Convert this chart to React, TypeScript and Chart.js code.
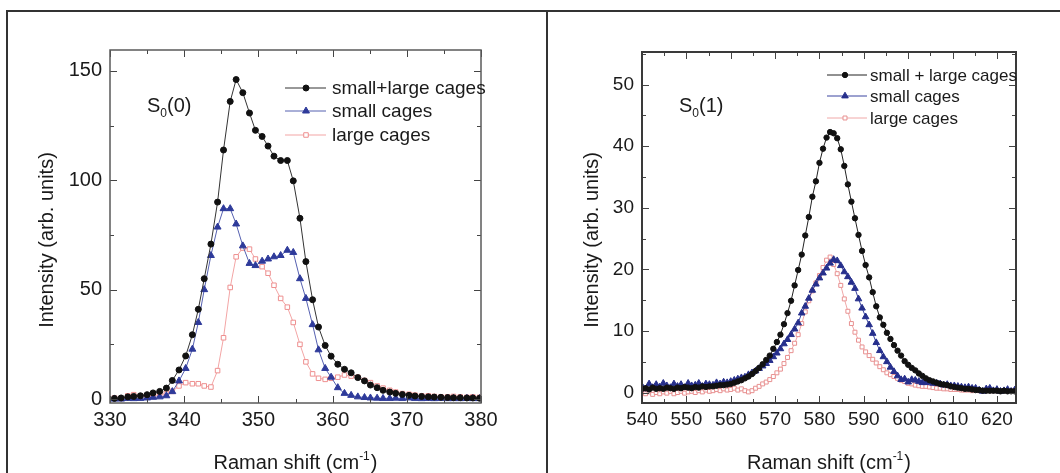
import React, { useEffect, useRef } from "react";
import { Chart, registerables } from "chart.js";
Chart.register(...registerables);

const FONT = '"Liberation Sans", Arial, Helvetica, sans-serif';
const TEXT = "#1a1a1a";

// ---------- Left panel: S0(0) ----------
const L_X = [
  330.6, 331.5, 332.4, 333.2, 334.1, 335.0, 335.8, 336.7, 337.6, 338.4,
  339.3, 340.2, 341.1, 341.9, 342.7, 343.6, 344.5, 345.3, 346.2, 347.0,
  347.9, 348.8, 349.6, 350.5, 351.3, 352.1, 353.0, 353.9, 354.7, 355.6,
  356.4, 357.3, 358.1, 359.0, 359.8, 360.7, 361.6, 362.5, 363.4, 364.3,
  365.1, 366.0, 366.8, 367.7, 368.5, 369.4, 370.3, 371.1, 372.0, 372.9,
  373.7, 374.6, 375.5, 376.3, 377.2, 378.1, 378.9, 379.8,
];
const L_BOTH = [
  0.3, 0.5, 1.0, 1.2, 1.5, 2.0, 2.8, 3.5, 5.0, 8.5,
  13.3, 19.7, 29.4, 41, 55, 70.8, 90, 113.8, 136, 146,
  140, 130.7, 122.8, 120, 115.6, 111, 109, 109, 99.7, 82.6,
  62.8, 45.4, 32.9, 24.5, 19.6, 15.9, 13.6, 12, 9.8, 8.3,
  6.4, 5.2, 4.0, 3.2, 2.6, 2.1, 1.7, 1.4, 1.2, 1.0,
  0.9, 0.8, 0.7, 0.6, 0.6, 0.5, 0.5, 0.4,
];
const L_SMALL = [
  0, 0, 0.3, 0.2, 0.3, 0.5, 0.8, 1.0, 1.5, 3.4,
  8.3, 14, 22.8, 35, 50, 65.6, 78.6, 87, 87, 80,
  70, 62, 61, 63, 64, 65, 65.6, 68, 67, 55,
  46, 34, 22.5, 14, 10, 5.2, 2.6, 1.7, 1.0, 0.7,
  0.5, 0.4, 0.3, 0.3, 0.4, 0.3, 0.5, 0.3, 0.2, 0.3,
  0.2, 0.3, 0.2, 0.2, 0.2, 0.3, 0.2, 0.2,
];
const L_LARGE = [
  0.5, 0.3, 1.5, 2.0, 1.5, 1.0, 1.5, 2.0, 2.5, 3.5,
  6.0, 7.5, 7.0, 7.0, 6.0, 5.5, 13, 28, 51, 65,
  69, 68.5, 64, 60.5, 57.5, 52, 46, 42, 35, 25,
  17, 11.5, 9.5, 9.0, 9.5, 10, 11, 10.5, 10, 8.5,
  7.5, 6.0, 5.0, 4.0, 3.2, 2.5, 2.2, 1.8, 1.5, 1.5,
  1.2, 1.0, 1.0, 1.2, 1.0, 0.8, 1.0, 0.8,
];
const L_XTICKS = [330, 340, 350, 360, 370, 380];
const L_YTICKS = [0, 50, 100, 150];
const L_LABELS = ["small+large cages", "small cages", "large cages"];
const L_ANNOT = ["S", "0", "(0)"];

// ---------- Right panel: S0(1) ----------
const R_X = [
  540.0, 540.8, 541.6, 542.4, 543.2, 544.0, 544.8, 545.6, 546.4, 547.2,
  548.0, 548.8, 549.6, 550.4, 551.2, 552.0, 552.8, 553.6, 554.4, 555.2,
  556.0, 556.8, 557.6, 558.4, 559.2, 560.0, 560.8, 561.6, 562.4, 563.2,
  564.0, 564.8, 565.6, 566.4, 567.2, 568.0, 568.8, 569.6, 570.4, 571.2,
  572.0, 572.8, 573.6, 574.4, 575.2, 576.0, 576.8, 577.6, 578.4, 579.2,
  580.0, 580.8, 581.6, 582.4, 583.2, 584.0, 584.8, 585.6, 586.4, 587.2,
  588.0, 588.8, 589.6, 590.4, 591.2, 592.0, 592.8, 593.6, 594.4, 595.2,
  596.0, 596.8, 597.6, 598.4, 599.2, 600.0, 600.8, 601.6, 602.4, 603.2,
  604.0, 604.8, 605.6, 606.4, 607.2, 608.0, 608.8, 609.6, 610.4, 611.2,
  612.0, 612.8, 613.6, 614.4, 615.2, 616.0, 616.8, 617.6, 618.4, 619.2,
  620.0, 620.8, 621.6, 622.4, 623.2, 624.0,
];
const R_BOTH = [
  0.6, 0.7, 0.5, 0.8, 0.6, 0.7, 0.6, 0.8, 0.7, 0.6,
  0.8, 0.7, 0.9, 0.8, 0.7, 0.9, 0.8, 1.0, 0.9, 1.0,
  1.0, 1.1, 1.2, 1.2, 1.3, 1.4, 1.6, 1.8, 2.0, 2.3,
  2.6, 3.0, 3.5, 4.0, 4.6, 5.3, 6.0, 7.1, 8.2, 9.4,
  11.1, 12.9, 14.9, 17.4, 19.9, 22.4, 25.5, 28.5, 31.8, 34.3,
  37.3, 39.6, 41.4, 42.3, 42.1, 41.3, 39.5, 36.8, 33.8, 31.0,
  28.3, 25.6, 23.0, 20.7, 18.7, 16.3, 14.0, 12.2, 11.0, 9.7,
  8.7, 7.7, 6.8, 6.0, 5.1, 4.5, 4.0, 3.6, 3.1, 2.7,
  2.3, 2.0, 1.8, 1.6, 1.4, 1.3, 1.2, 1.0, 0.9, 0.8,
  0.7, 0.6, 0.6, 0.5, 0.4, 0.4, 0.3, 0.3, 0.3, 0.3,
  0.3, 0.2, 0.3, 0.2, 0.2, 0.2,
];
const R_SMALL = [
  1.0, 0.6, 1.4, 0.8, 1.3, 0.9, 1.5, 1.1, 0.8, 1.4,
  1.0, 1.3, 0.8, 1.5, 1.1, 1.2, 1.5, 1.0, 1.4, 1.3,
  1.2, 1.6, 1.4, 1.7, 1.6, 1.8, 2.0, 2.2, 2.4, 2.5,
  2.9, 3.2, 3.5, 3.9, 4.3, 4.7, 5.2, 5.8, 6.4, 7.1,
  7.9, 8.6, 9.4, 10.3, 11.3, 12.9, 14.0, 15.3, 16.6, 17.6,
  18.6, 19.4, 20.2, 21.0, 21.6, 21.4, 20.6, 19.6, 18.8, 17.9,
  16.9, 15.2, 13.7, 12.3, 11.0, 9.6, 8.1, 6.8, 5.8, 5.0,
  4.1, 3.4, 2.7, 2.1, 2.2, 1.7, 2.1, 2.0, 1.8, 1.6,
  1.6, 1.7, 1.5, 1.5, 1.4, 1.2, 1.3, 1.1, 1.1, 1.0,
  0.9, 0.8, 0.9, 0.7, 0.7, 0.4, 0.2, 0.6, 0.7, 0.3,
  0.5, 0.2, 0.3, 0.5, 0.2, 0.4,
];
const R_LARGE = [
  0.0, -0.2, 0.1, -0.3, 0.0, -0.2, 0.1, -0.1, 0.2, -0.2,
  0.0, 0.2, -0.1, 0.1, 0.2, 0.0, 0.3, 0.1, 0.4, 0.2,
  0.3, 0.5, 0.3, 0.6, 0.4, 0.5, 0.7, 0.4, 0.6, 0.3,
  0.1, 0.3, 0.7, 1.0, 1.4, 1.7, 2.1, 2.6, 3.2, 3.8,
  4.7, 5.7, 6.8, 8.0, 9.4, 11.2, 13.1, 14.9, 16.5, 17.8,
  19.0, 20.3, 21.5, 22.0, 20.8, 19.3, 17.4, 15.2, 13.2, 11.2,
  9.8, 8.5, 7.4, 6.6, 6.0, 5.4, 4.8, 4.2, 3.7, 3.2,
  2.9, 2.6, 2.3, 2.0, 1.8, 1.5, 1.4, 1.2, 1.1, 1.0,
  1.0, 0.9, 0.8, 0.7, 0.7, 0.6, 0.6, 0.5, 0.5, 0.5,
  0.4, 0.4, 0.4, 0.3, 0.4, 0.3, 0.3, 0.4, 0.3, 0.3,
  0.3, 0.2, 0.3, 0.3, 0.2, 0.3,
];
const R_XTICKS = [540, 550, 560, 570, 580, 590, 600, 610, 620];
const R_YTICKS = [0, 10, 20, 30, 40, 50];
const R_LABELS = ["small + large cages", "small cages", "large cages"];
const R_ANNOT = ["S", "0", "(1)"];

const X_TITLE = "Raman shift (cm";
const X_TITLE_SUP = "-1";
const X_TITLE_END = ")";
const Y_TITLE = "Intensity (arb. units)";

type Series = {
  label: string;
  data: number[];
  style: "circle" | "triangle" | "rect";
  radius: number;
  fill: string;
  stroke: string;
  line: string;
};

type PanelCfg = {
  canvasLeft: number;
  width: number;
  height: number;
  area: { left: number; right: number; top: number; bottom: number };
  xMin: number; xMax: number; yMin: number; yMax: number;
  xMinor: number; yMinor: number;
  xTicks: number[]; yTicks: number[];
  xs: number[];
  series: Series[];
  tickSize: number;
  titleSize: number;
  frame: { color: string; width: number };
  legend: { x1: number; xm: number; x2: number; tx: number; ys: number[]; size: number };
  annot: { parts: string[]; x: number; y: number };
  yTitle: { cx: number; cy: number };
  xTitleY: number;
};

const LEFT: PanelCfg = {
  canvasLeft: 0, width: 547, height: 473,
  area: { left: 110, right: 481, top: 50, bottom: 403 },
  xMin: 330, xMax: 380, yMin: -1.8, yMax: 159.5, xMinor: 5, yMinor: 25,
  xTicks: L_XTICKS, yTicks: L_YTICKS, xs: L_X,
  series: [
    { label: L_LABELS[0], data: L_BOTH, style: "circle", radius: 3, fill: "#111", stroke: "#111", line: "#333" },
    { label: L_LABELS[1], data: L_SMALL, style: "triangle", radius: 4, fill: "#2e3a9a", stroke: "#2e3a9a", line: "#5560b0" },
    { label: L_LABELS[2], data: L_LARGE, style: "rect", radius: 3.2, fill: "#ffffff", stroke: "#ee8f8f", line: "#f3a5a5" },
  ],
  tickSize: 20, titleSize: 20,
  frame: { color: "#5a5a5a", width: 1.5 },
  legend: { x1: 285, xm: 306, x2: 326, tx: 332, ys: [88, 111, 135], size: 19 },
  annot: { parts: L_ANNOT, x: 147, y: 112 },
  yTitle: { cx: 47, cy: 240 },
  xTitleY: 469,
};

const RIGHT: PanelCfg = {
  canvasLeft: 547, width: 513, height: 473,
  area: { left: 95, right: 469, top: 52, bottom: 403 },
  xMin: 540, xMax: 624.3, yMin: -1.7, yMax: 55.3, xMinor: 5, yMinor: 5,
  xTicks: R_XTICKS, yTicks: R_YTICKS, xs: R_X,
  series: [
    { label: R_LABELS[0], data: R_BOTH, style: "circle", radius: 2.7, fill: "#111", stroke: "#111", line: "#222" },
    { label: R_LABELS[1], data: R_SMALL, style: "triangle", radius: 3.8, fill: "#262f8c", stroke: "#262f8c", line: "#3a44a0" },
    { label: R_LABELS[2], data: R_LARGE, style: "rect", radius: 2.8, fill: "#ffffff", stroke: "#e89090", line: "#f0a8a8" },
  ],
  tickSize: 19, titleSize: 20,
  frame: { color: "#3a3a3a", width: 2 },
  legend: { x1: 280, xm: 298, x2: 320, tx: 323, ys: [75, 96, 118], size: 17 },
  annot: { parts: R_ANNOT, x: 132, y: 112 },
  yTitle: { cx: 45, cy: 240 },
  xTitleY: 469,
};

function drawMarker(ctx: CanvasRenderingContext2D, s: Series, x: number, y: number) {
  const r = s.radius;
  ctx.beginPath();
  if (s.style === "circle") {
    ctx.arc(x, y, r, 0, Math.PI * 2);
  } else if (s.style === "triangle") {
    ctx.moveTo(x, y - r);
    ctx.lineTo(x + r * 0.866, y + r * 0.5);
    ctx.lineTo(x - r * 0.866, y + r * 0.5);
    ctx.closePath();
  } else {
    const h = r * Math.SQRT1_2;
    ctx.rect(x - h, y - h, 2 * h, 2 * h);
  }
  ctx.fillStyle = s.fill;
  ctx.fill();
  ctx.strokeStyle = s.stroke;
  ctx.lineWidth = 1;
  ctx.stroke();
}

function makeDecor(p: PanelCfg) {
  return {
    id: "decor",
    afterDraw(chart: any) {
      const ctx: CanvasRenderingContext2D = chart.ctx;
      const { left, right, top, bottom } = chart.chartArea;
      const xs = chart.scales.x;
      const ys = chart.scales.y;
      ctx.save();
      ctx.strokeStyle = "#444";
      ctx.lineWidth = 1;
      const seg = (x1: number, y1: number, x2: number, y2: number) => {
        ctx.beginPath();
        ctx.moveTo(x1, y1);
        ctx.lineTo(x2, y2);
        ctx.stroke();
      };
      const MAJ = 7, MIN = 4;
      for (let v = Math.ceil(p.xMin / p.xMinor) * p.xMinor; v <= p.xMax + 1e-9; v += p.xMinor) {
        const len = p.xTicks.includes(v) ? MAJ : MIN;
        const px = Math.round(xs.getPixelForValue(v)) + 0.5;
        seg(px, bottom, px, bottom - len);
        seg(px, top, px, top + len);
      }
      for (let v = Math.ceil(p.yMin / p.yMinor) * p.yMinor; v <= p.yMax + 1e-9; v += p.yMinor) {
        const len = p.yTicks.includes(v) ? MAJ : MIN;
        const py = Math.round(ys.getPixelForValue(v)) + 0.5;
        seg(left, py, left + len, py);
        seg(right, py, right - len, py);
      }
      ctx.strokeStyle = p.frame.color;
      ctx.lineWidth = p.frame.width;
      ctx.strokeRect(left, top, right - left, bottom - top);

      // legend
      ctx.textBaseline = "middle";
      ctx.textAlign = "left";
      p.series.forEach((s, i) => {
        const y = p.legend.ys[i];
        ctx.strokeStyle = s.line;
        ctx.lineWidth = 1;
        seg(p.legend.x1, y, p.legend.x2, y);
        drawMarker(ctx, s, p.legend.xm, y);
        ctx.fillStyle = TEXT;
        ctx.font = `${p.legend.size}px ${FONT}`;
        ctx.fillText(s.label, p.legend.tx, y + 1);
      });

      // annotation S0(n)
      ctx.textBaseline = "alphabetic";
      ctx.fillStyle = TEXT;
      ctx.font = `20px ${FONT}`;
      let ax = p.annot.x;
      ctx.fillText(p.annot.parts[0], ax, p.annot.y);
      ax += ctx.measureText(p.annot.parts[0]).width;
      ctx.font = `12px ${FONT}`;
      ctx.fillText(p.annot.parts[1], ax, p.annot.y + 5);
      ax += ctx.measureText(p.annot.parts[1]).width;
      ctx.font = `20px ${FONT}`;
      ctx.fillText(p.annot.parts[2], ax, p.annot.y);

      // x title with superscript
      ctx.font = `${p.titleSize}px ${FONT}`;
      const w1 = ctx.measureText(X_TITLE).width;
      const w3 = ctx.measureText(X_TITLE_END).width;
      ctx.font = `12px ${FONT}`;
      const w2 = ctx.measureText(X_TITLE_SUP).width;
      const cx = (left + right) / 2;
      let tx = cx - (w1 + w2 + w3 + 1) / 2;
      ctx.font = `${p.titleSize}px ${FONT}`;
      ctx.fillText(X_TITLE, tx, p.xTitleY);
      tx += w1;
      ctx.font = `12px ${FONT}`;
      ctx.fillText(X_TITLE_SUP, tx, p.xTitleY - 9);
      tx += w2 + 1;
      ctx.font = `${p.titleSize}px ${FONT}`;
      ctx.fillText(X_TITLE_END, tx, p.xTitleY);

      // y title
      ctx.save();
      ctx.translate(p.yTitle.cx, p.yTitle.cy);
      ctx.rotate(-Math.PI / 2);
      ctx.textAlign = "center";
      ctx.textBaseline = "middle";
      ctx.font = `${p.titleSize}px ${FONT}`;
      ctx.fillText(Y_TITLE, 0, 0);
      ctx.restore();

      ctx.restore();
    },
  };
}

function buildConfig(p: PanelCfg): any {
  return {
    type: "line",
    data: {
      datasets: p.series.map((s) => ({
        label: s.label,
        data: p.xs.map((x, i) => ({ x, y: s.data[i] })),
        borderColor: s.line,
        borderWidth: 1,
        pointStyle: s.style,
        pointRadius: s.radius,
        pointBackgroundColor: s.fill,
        pointBorderColor: s.stroke,
        pointBorderWidth: 1,
        tension: 0,
        fill: false,
      })),
    },
    options: {
      animation: false,
      responsive: false,
      devicePixelRatio: 1,
      events: [],
      layout: {
        padding: { left: 0, top: p.area.top, right: p.width - p.area.right, bottom: 0 },
      },
      plugins: { legend: { display: false }, tooltip: { enabled: false }, title: { display: false } },
      scales: {
        x: {
          type: "linear",
          position: "bottom",
          min: p.xMin,
          max: p.xMax,
          grid: { display: false, drawTicks: false },
          border: { display: false },
          ticks: {
            font: { family: FONT, size: p.tickSize },
            color: TEXT,
            padding: 5,
            maxRotation: 0,
            autoSkip: false,
          },
          afterBuildTicks: (s: any) => {
            s.ticks = p.xTicks.map((v) => ({ value: v }));
          },
          afterFit: (s: any) => {
            s.height = p.height - p.area.bottom;
          },
        },
        y: {
          type: "linear",
          position: "left",
          min: p.yMin,
          max: p.yMax,
          grid: { display: false, drawTicks: false },
          border: { display: false },
          ticks: {
            font: { family: FONT, size: p.tickSize },
            color: TEXT,
            padding: 8,
            autoSkip: false,
          },
          afterBuildTicks: (s: any) => {
            s.ticks = p.yTicks.map((v) => ({ value: v }));
          },
          afterFit: (s: any) => {
            s.width = p.area.left;
          },
        },
      },
    },
    plugins: [makeDecor(p)],
  };
}

function Panel({ p }: { p: PanelCfg }) {
  const ref = useRef<HTMLCanvasElement | null>(null);
  useEffect(() => {
    if (!ref.current) return;
    const chart = new Chart(ref.current, buildConfig(p));
    return () => chart.destroy();
  }, [p]);
  return (
    <canvas
      ref={ref}
      width={p.width}
      height={p.height}
      style={{ position: "absolute", left: p.canvasLeft, top: 0, width: p.width, height: p.height }}
    />
  );
}

export default function App() {
  return (
    <div
      style={{
        position: "fixed",
        left: 0,
        top: 0,
        width: 1060,
        height: 473,
        background: "#ffffff",
        overflow: "hidden",
      }}
    >
      <Panel p={LEFT} />
      <Panel p={RIGHT} />
      <div
        style={{
          position: "absolute",
          left: 6,
          top: 10,
          width: 1100,
          height: 500,
          borderLeft: "2px solid #333",
          borderTop: "2px solid #333",
          pointerEvents: "none",
        }}
      />
      <div
        style={{
          position: "absolute",
          left: 546,
          top: 10,
          width: 2,
          height: 480,
          background: "#333",
          pointerEvents: "none",
        }}
      />
    </div>
  );
}
